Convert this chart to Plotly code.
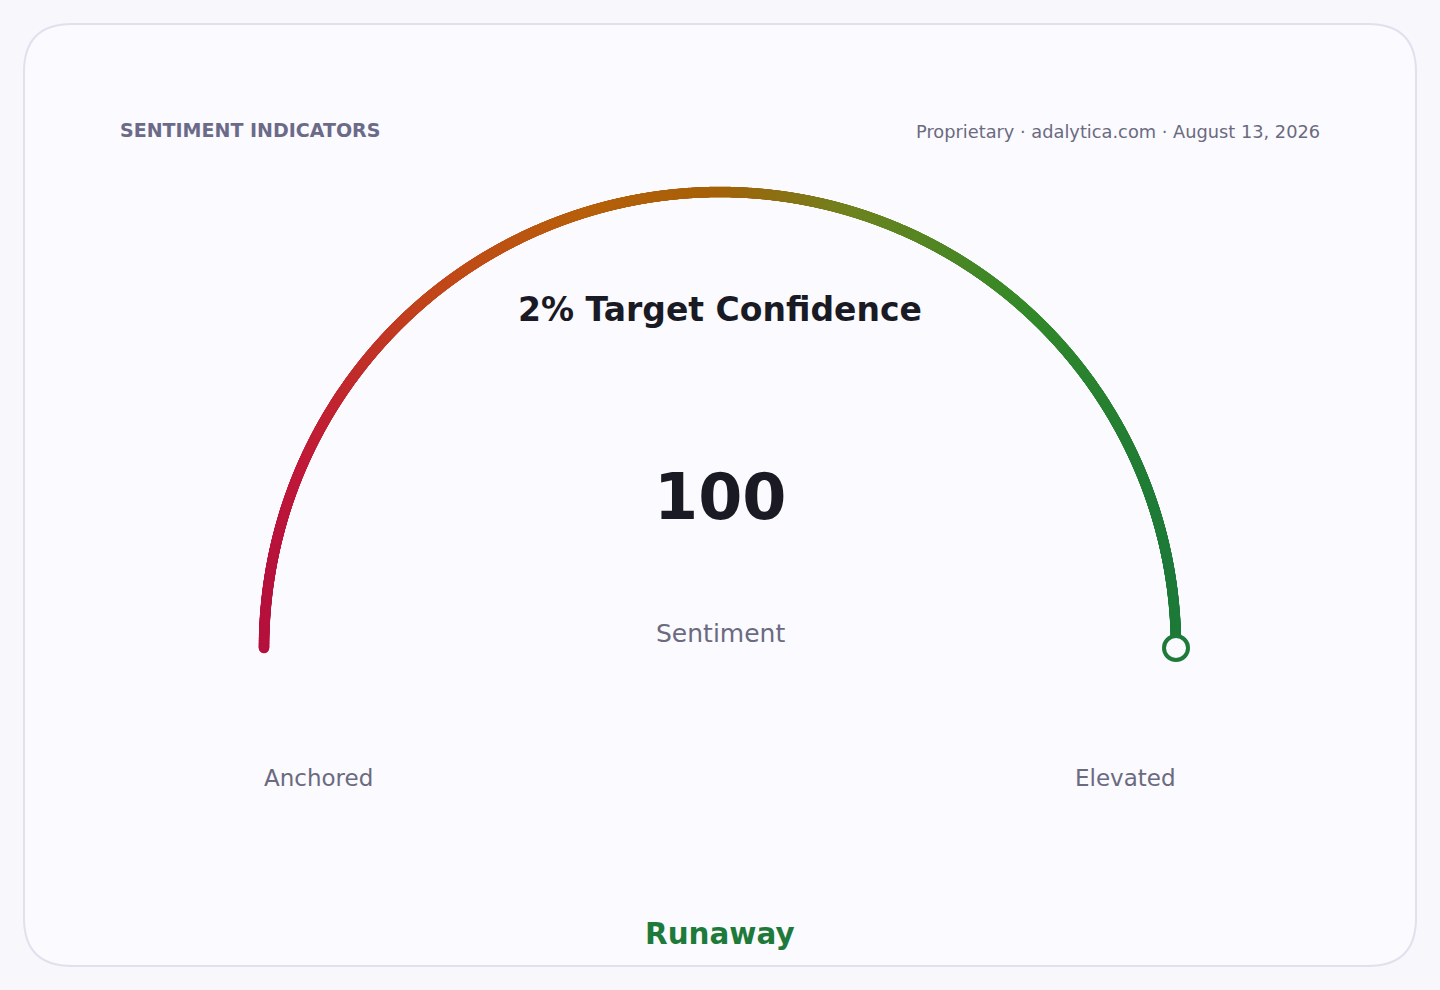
import numpy as np
import plotly.graph_objects as go

# ---- data ----
header_left = "SENTIMENT INDICATORS"
header_right = "Proprietary · adalytica.com · August 13, 2026"
gauge_title = "2% Target Confidence"
gauge_min = 0
gauge_max = 100
gauge_value = 100
value_label = "Sentiment"
min_label = "Anchored"
max_label = "Elevated"
state_label = "Runaway"

# gradient stops (fraction across the dial, colour)
grad_pos = [0.0, 0.04, 0.18, 0.35, 0.5, 0.65, 0.84, 1.0]
grad_col = ["#b5123e", "#c01a3a", "#c2461c", "#b8600c", "#a6620a", "#6e8420", "#348a2a", "#1e7a3a"]

W, H = 1440, 990
CX, CY, R = 720, 648, 456
FONT = "DejaVu Sans"


def hex2rgb(h):
    h = h.lstrip("#")
    return np.array([int(h[i:i + 2], 16) for i in (0, 2, 4)], dtype=float)


stops_rgb = np.array([hex2rgb(c) for c in grad_col])


def grad(f):
    r = np.interp(f, grad_pos, stops_rgb[:, 0])
    g = np.interp(f, grad_pos, stops_rgb[:, 1])
    b = np.interp(f, grad_pos, stops_rgb[:, 2])
    return ["rgb(%d,%d,%d)" % (a, bb, c) for a, bb, c in zip(r, g, b)]


frac = (gauge_value - gauge_min) / (gauge_max - gauge_min)
n = 2400
t = np.linspace(0, frac, n)
theta = np.pi * (1 - t)
xs = CX + R * np.cos(theta)
ys = CY - R * np.sin(theta)
xf = (xs - (CX - R)) / (2 * R)
cols = grad(xf)

fig = go.Figure()

# card
rad = 48
x0, y0, x1, y1 = 24, 24, 1416, 966
path = (f"M {x0+rad},{y0} L {x1-rad},{y0} Q {x1},{y0} {x1},{y0+rad} "
        f"L {x1},{y1-rad} Q {x1},{y1} {x1-rad},{y1} L {x0+rad},{y1} "
        f"Q {x0},{y1} {x0},{y1-rad} L {x0},{y0+rad} Q {x0},{y0} {x0+rad},{y0} Z")
fig.add_shape(type="path", path=path, xref="x", yref="y",
              fillcolor="#fafaff", line=dict(color="#e1e1ee", width=2), layer="below")

fig.add_trace(go.Scatter(x=xs, y=ys, mode="markers",
                         marker=dict(size=10.5, color=cols, line=dict(width=0)),
                         hoverinfo="skip", showlegend=False))

# end marker
fig.add_trace(go.Scatter(x=[xs[-1]], y=[ys[-1]], mode="markers",
                         marker=dict(size=24, color="#fafaff",
                                     line=dict(width=4, color=cols[-1])),
                         hoverinfo="skip", showlegend=False))


def ann(text, x, y, size, color, bold=False, xanchor="center"):
    shift = {"left": -2, "right": 2, "center": 0}[xanchor]
    fig.add_annotation(x=x, y=y, xref="x", yref="y", text=(f"<b>{text}</b>" if bold else text),
                       showarrow=False, xanchor=xanchor, yanchor="middle", xshift=shift,
                       font=dict(family=FONT, size=size, color=color))


ann(header_left, 120, 130, 19, "#6b6a88", bold=True, xanchor="left")
ann(header_right, 1320, 131, 17.8, "#6b6a80", xanchor="right")
ann(gauge_title, 720, 309, 33, "#1a1a24", bold=True)
ann(str(gauge_value), 720, 497, 63.5, "#1a1a24", bold=True)
ann(value_label, 720, 633, 25, "#6b6a80")
ann(min_label, CX - R, 778, 23, "#6b6a80", xanchor="left")
ann(max_label, CX + R, 778, 23, "#6b6a80", xanchor="right")
ann(state_label, 720, 934, 29.4, "#1e7a3a", bold=True)

fig.update_layout(
    width=W, height=H, margin=dict(l=0, r=0, t=0, b=0),
    paper_bgcolor="#f7f7fc", plot_bgcolor="rgba(0,0,0,0)",
    xaxis=dict(range=[0, W], visible=False, fixedrange=True),
    yaxis=dict(range=[H, 0], visible=False, fixedrange=True),
    showlegend=False,
)

fig.write_html("out.html", config={"displayModeBar": False},
               post_script="document.body.style.margin='0';document.body.style.background='#f7f7fc';")
